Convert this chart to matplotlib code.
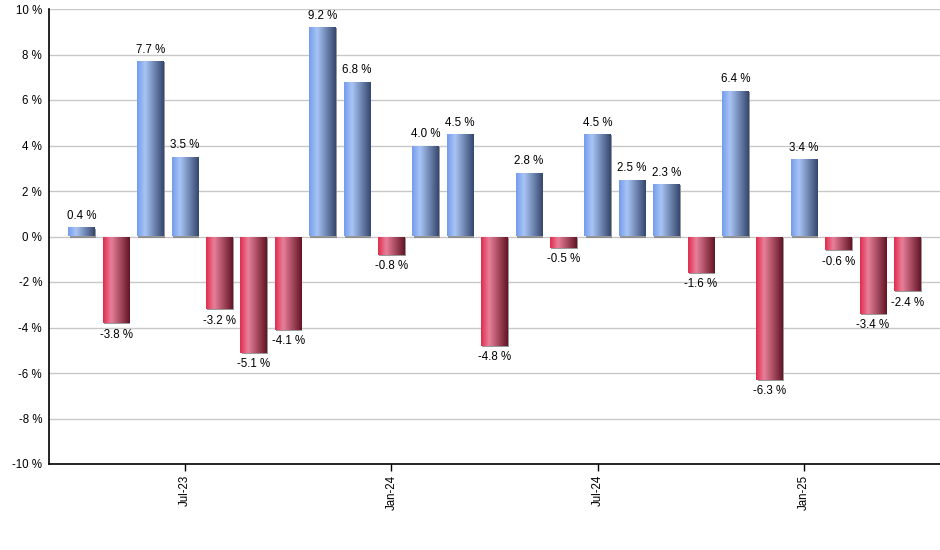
import numpy as np
import matplotlib
matplotlib.use("Agg")
import matplotlib.pyplot as plt
from matplotlib.colors import LinearSegmentedColormap
import matplotlib.patheffects as pe

plt.rcParams['font.family'] = ['Liberation Sans', 'DejaVu Sans']

# Monthly returns, Apr-23 .. Apr-25
months = ["Apr-23", "May-23", "Jun-23", "Jul-23", "Aug-23", "Sep-23", "Oct-23",
          "Nov-23", "Dec-23", "Jan-24", "Feb-24", "Mar-24", "Apr-24", "May-24",
          "Jun-24", "Jul-24", "Aug-24", "Sep-24", "Oct-24", "Nov-24", "Dec-24",
          "Jan-25", "Feb-25", "Mar-25", "Apr-25"]
returns = [0.4, -3.8, 7.7, 3.5, -3.2, -5.1, -4.1, 9.2, 6.8, -0.8, 4.0, 4.5, -4.8,
           2.8, -0.5, 4.5, 2.5, 2.3, -1.6, 6.4, -6.3, 3.4, -0.6, -3.4, -2.4]
tick_months = ["Jul-23", "Jan-24", "Jul-24", "Jan-25"]
yticks = [-10, -8, -6, -4, -2, 0, 2, 4, 6, 8, 10]

blue_cmap = LinearSegmentedColormap.from_list(
    "blue", [(0, "#739CEC"), (0.3, "#A9C5F6"), (1, "#34466C")])
red_cmap = LinearSegmentedColormap.from_list(
    "red", [(0, "#E02A4C"), (0.3, "#E9809A"), (1, "#621424")])

fig = plt.figure(figsize=(9.4, 5.5), dpi=100)
ax = fig.add_axes([49 / 940, 86 / 550, 1 - 49 / 940, 455 / 550])

x = np.arange(len(returns))
bars = ax.bar(x, returns, width=0.77, color="none", edgecolor="none", zorder=3)

grad = np.linspace(0, 1, 256).reshape(1, -1)
for rect, val in zip(bars, returns):
    rect.set_path_effects([pe.SimplePatchShadow(offset=(0.8, -0.8), shadow_rgbFace="#808080", alpha=0.8),
                           pe.Normal()])
    x0 = rect.get_x()
    w = rect.get_width()
    y0, y1 = sorted([0, val])
    img = ax.imshow(grad, cmap=blue_cmap if val >= 0 else red_cmap, aspect="auto",
                    extent=[x0, x0 + w, y0, y1], zorder=4, interpolation="bicubic")
    img.set_clip_path(rect)
    if val >= 0:
        ax.annotate(f"{val:.1f} %", (x0 + w / 2, val), xytext=(0, 4),
                    textcoords="offset points", ha="center", va="bottom", fontsize=8.3)
    else:
        ax.annotate(f"{val:.1f} %", (x0 + w / 2, val), xytext=(0, -4),
                    textcoords="offset points", ha="center", va="top", fontsize=8.3)

ax.set_xlim(-0.95, len(returns) - 0.05)
ax.set_ylim(-10, 10)
ax.set_yticks(yticks)
ax.set_yticklabels([f"{t} %" for t in yticks], fontsize=8.3)
ax.set_xticks([months.index(m) for m in tick_months])
ax.set_xticklabels(tick_months, rotation=90, fontsize=8.3)
ax.tick_params(axis="y", length=0, pad=5)
ax.tick_params(axis="x", length=5, width=1, pad=3)
ax.grid(axis="y", color="#C8C8C8", linewidth=1, zorder=0)
ax.set_axisbelow(True)
for s in ["top", "right"]:
    ax.spines[s].set_visible(False)
ax.spines["left"].set_linewidth(1.2)
ax.spines["bottom"].set_linewidth(1.2)

fig.savefig("out.png", dpi=100)
